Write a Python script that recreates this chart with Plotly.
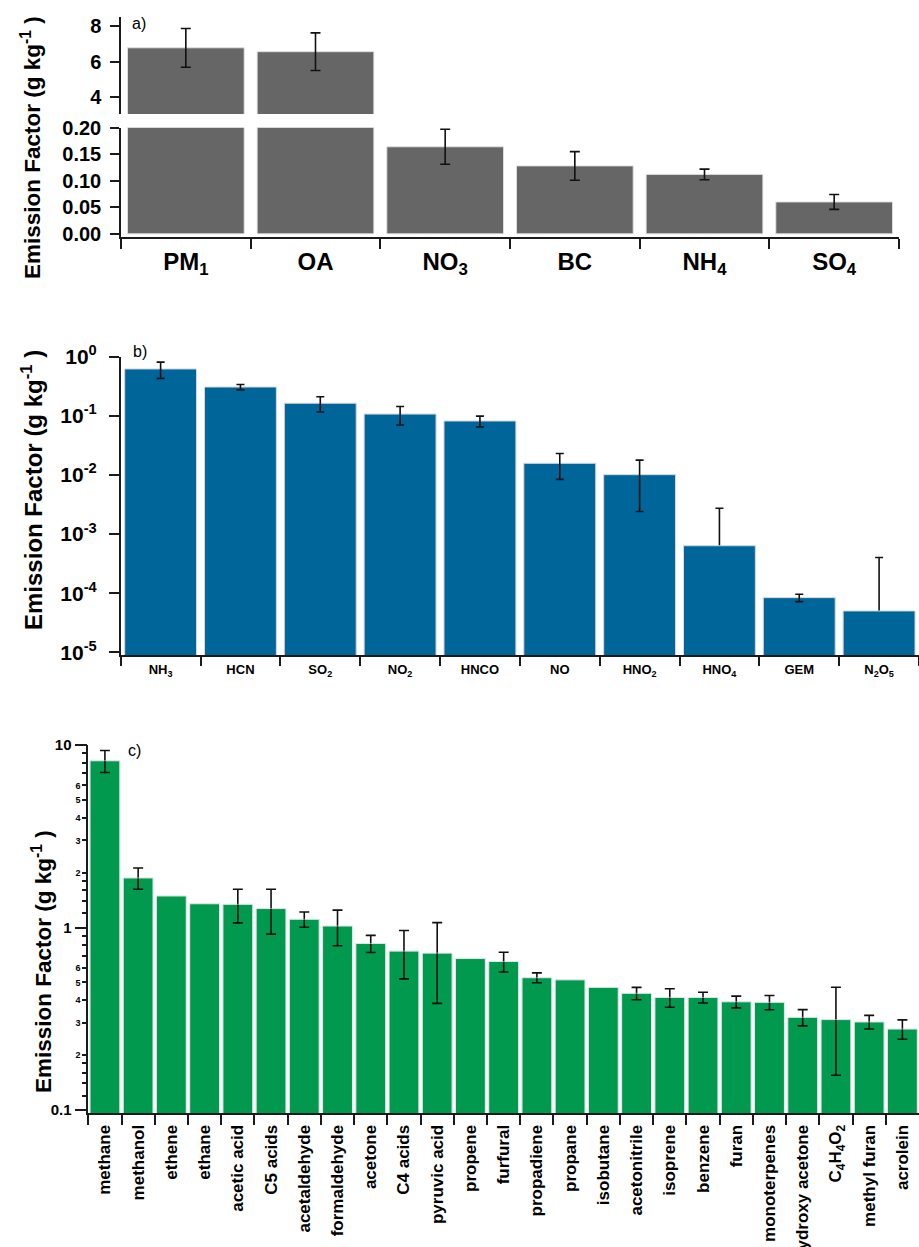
import plotly.graph_objects as go

# ---------------- data ----------------
a_labels = ['PM<sub>1</sub>', 'OA', 'NO<sub>3</sub>', 'BC', 'NH<sub>4</sub>', 'SO<sub>4</sub>']
a_values = [6.78, 6.56, 0.164, 0.128, 0.112, 0.060]
a_errors = [1.10, 1.07, 0.033, 0.027, 0.010, 0.014]

b_labels = ['NH<sub>3</sub>', 'HCN', 'SO<sub>2</sub>', 'NO<sub>2</sub>', 'HNCO', 'NO',
            'HNO<sub>2</sub>', 'HNO<sub>4</sub>', 'GEM', 'N<sub>2</sub>O<sub>5</sub>']
b_values = [0.62, 0.307, 0.163, 0.107, 0.0817, 0.0157, 0.0101, 0.000634, 8.4e-5, 5.0e-5]
b_errors = [0.19, 0.032, 0.047, 0.037, 0.017, 0.0073, 0.0077, 0.0021, 1.2e-5, 3.5e-4]

c_labels = ['methane', 'methanol', 'ethene', 'ethane', 'acetic acid', 'C5 acids',
            'acetaldehyde', 'formaldehyde', 'acetone', 'C4 acids', 'pyruvic acid',
            'propene', 'furfural', 'propadiene', 'propane', 'isobutane', 'acetonitrile',
            'isoprene', 'benzene', 'furan', 'monoterpenes', 'hydroxy acetone',
            'C<sub>4</sub>H<sub>4</sub>O<sub>2</sub>', 'methyl furan', 'acrolein']
c_values = [8.2, 1.87, 1.49, 1.35, 1.34, 1.27, 1.11, 1.02, 0.817, 0.743, 0.724,
            0.676, 0.651, 0.531, 0.517, 0.470, 0.436, 0.414, 0.414, 0.392, 0.389,
            0.322, 0.313, 0.304, 0.278]
c_errors = [1.13, 0.25, None, None, 0.28, 0.35, 0.107, 0.225, 0.088, 0.22, 0.34,
            None, 0.081, 0.033, None, None, 0.034, 0.048, 0.028, 0.029, 0.035,
            0.033, 0.158, 0.026, 0.034]

b_tickvals = [1e-5, 1e-4, 1e-3, 1e-2, 1e-1, 1]
b_ticktext = ['10<sup>-5</sup>', '10<sup>-4</sup>', '10<sup>-3</sup>',
              '10<sup>-2</sup>', '10<sup>-1</sup>', '10<sup>0</sup>']
c_major_vals = [0.1, 1, 10]
c_major_text = ['0.1', '1', '10']
c_minor_vals = [0.12, 0.14, 0.16, 0.18, 0.2, 0.3, 0.4, 0.5, 0.6, 0.7, 0.8, 0.9,
                1.2, 1.4, 1.6, 1.8, 2, 3, 4, 5, 6, 7, 8, 9]
c_minor_text = ['', '', '', '', '2', '3', '4', '5', '6', '', '', '',
                '', '', '', '', '2', '3', '4', '5', '6', '', '', '']

# ---------------- style ----------------
W, H = 919, 1247
FONT = "Liberation Sans, Arial, sans-serif"
GRAY = '#666666'
BLUE = '#00669a'
GREEN = '#00994d'
INK = '#1a1a1a'
edge = dict(color='rgba(225,225,225,0.9)', width=1)


def py(p):
    return 1 - p / H


def bold(size):
    return dict(family=FONT, size=size, color='black', weight='bold')


def clean(arr):
    # missing error -> 'NaN' so plotly.js skips the error bar entirely
    return [e if e is not None else 'NaN' for e in arr]


line_style = dict(showline=True, linecolor=INK, linewidth=1.5, ticks='outside',
                  tickcolor=INK, tickwidth=1.5, showgrid=False, zeroline=False,
                  automargin=False)


def err(arr, w):
    return dict(type='data', array=clean(arr), visible=True, color='#111111',
                thickness=1.6, width=w)


fig = go.Figure()

# panel a: broken axis (bottom + top segment)
fig.add_trace(go.Bar(x=a_labels, y=a_values, marker=dict(color=GRAY, line=edge),
                     error_y=err(a_errors, 5), xaxis='x', yaxis='y'))
fig.add_trace(go.Bar(x=a_labels, y=a_values, marker=dict(color=GRAY, line=edge),
                     error_y=err(a_errors, 5), xaxis='x2', yaxis='y2'))

# panel b: one-sided errors drawn behind the bars, the rest in front
b_err_back = [e if e >= v else None for v, e in zip(b_values, b_errors)]
b_err_front = [e if e < v else None for v, e in zip(b_values, b_errors)]
fig.add_trace(go.Bar(x=b_labels, y=b_values, marker=dict(color=BLUE, line=edge),
                     error_y=err(b_err_back, 4), xaxis='x3', yaxis='y3'))
fig.add_trace(go.Bar(x=b_labels, y=b_values, marker=dict(color=BLUE, line=edge),
                     error_y=err(b_err_front, 4), xaxis='x3', yaxis='y3'))

# panel c
fig.add_trace(go.Bar(x=c_labels, y=c_values, marker=dict(color=GREEN, line=edge),
                     error_y=err(c_errors, 5), xaxis='x4', yaxis='y4'))
# transparent copy so the minor-label overlay axis is drawn
fig.add_trace(go.Bar(x=c_labels, y=c_values, marker=dict(color='rgba(0,0,0,0)'),
                     hoverinfo='skip', xaxis='x4', yaxis='y5'))

title = 'Emission Factor (g kg<sup>-1</sup> )'

fig.update_layout(
    width=W, height=H, autosize=False,
    margin=dict(l=0, r=0, t=0, b=0, pad=0, autoexpand=False),
    paper_bgcolor='white', plot_bgcolor='white', showlegend=False,
    barmode='overlay', bargap=0.1, font=dict(family=FONT, color='black'),
    xaxis=dict(domain=[121 / W, 899 / W], anchor='y', type='category',
               tickson='boundaries', ticklen=10, tickfont=bold(24),
               ticklabelstandoff=2, **line_style),
    yaxis=dict(domain=[py(237), py(127.7)], anchor='x', range=[-0.006, 0.2],
               tickvals=[0, 0.05, 0.1, 0.15, 0.2], tickformat='.2f', ticklen=9,
               tickfont=bold(20), ticklabelstandoff=5, **line_style),
    xaxis2=dict(domain=[121 / W, 899 / W], anchor='y2', type='category',
                matches='x', visible=False, automargin=False),
    yaxis2=dict(domain=[py(114), py(16.7)], anchor='x2', range=[3.02, 8.55],
                tickvals=[4, 6, 8], ticklen=9, tickfont=bold(20),
                ticklabelstandoff=5, **line_style),
    xaxis3=dict(domain=[120.7 / W, 1.0], anchor='y3', type='category',
                tickson='boundaries', ticklen=9, tickfont=bold(13),
                ticklabelstandoff=2, **line_style),
    yaxis3=dict(domain=[py(655), py(356.7)], anchor='x3', type='log',
                range=[-5.046, 0], tickvals=b_tickvals, ticktext=b_ticktext,
                ticklen=10, tickfont=bold(21), ticklabelstandoff=8, **line_style),
    xaxis4=dict(domain=[88.3 / W, 1.0], anchor='y4', type='category',
                tickson='boundaries', ticklen=10, tickangle=-90,
                tickfont=bold(17), ticklabelstandoff=3, **line_style),
    yaxis4=dict(domain=[py(1113.3), py(745)], anchor='x4', type='log',
                range=[-1.018, 1], tickvals=c_major_vals, ticktext=c_major_text,
                ticklen=12, tickfont=bold(15), **line_style),
    yaxis5=dict(overlaying='y4', anchor='x4', side='left', type='log',
                range=[-1.018, 1], tickvals=c_minor_vals, ticktext=c_minor_text,
                ticks='outside', ticklen=5, tickwidth=1.5, tickcolor=INK,
                tickfont=bold(9), showline=False, showgrid=False, zeroline=False,
                automargin=False),
)

ann = []
for txt, xp, yp in [('a)', 139, 23), ('b)', 140, 351), ('c)', 134, 750)]:
    ann.append(dict(text=txt, x=xp / W, y=py(yp), xref='paper', yref='paper',
                    showarrow=False, xanchor='center', yanchor='middle',
                    font=dict(family=FONT, size=16, color='black')))
for xp, yp, fs in [(31, 148, 22.5), (32, 490, 24), (42, 962, 22.5)]:
    ann.append(dict(text=title, x=xp / W, y=py(yp), xref='paper', yref='paper',
                    showarrow=False, xanchor='center', yanchor='middle',
                    textangle=-90, font=bold(fs)))
fig.update_layout(annotations=ann)

fig.write_html("out.html")
